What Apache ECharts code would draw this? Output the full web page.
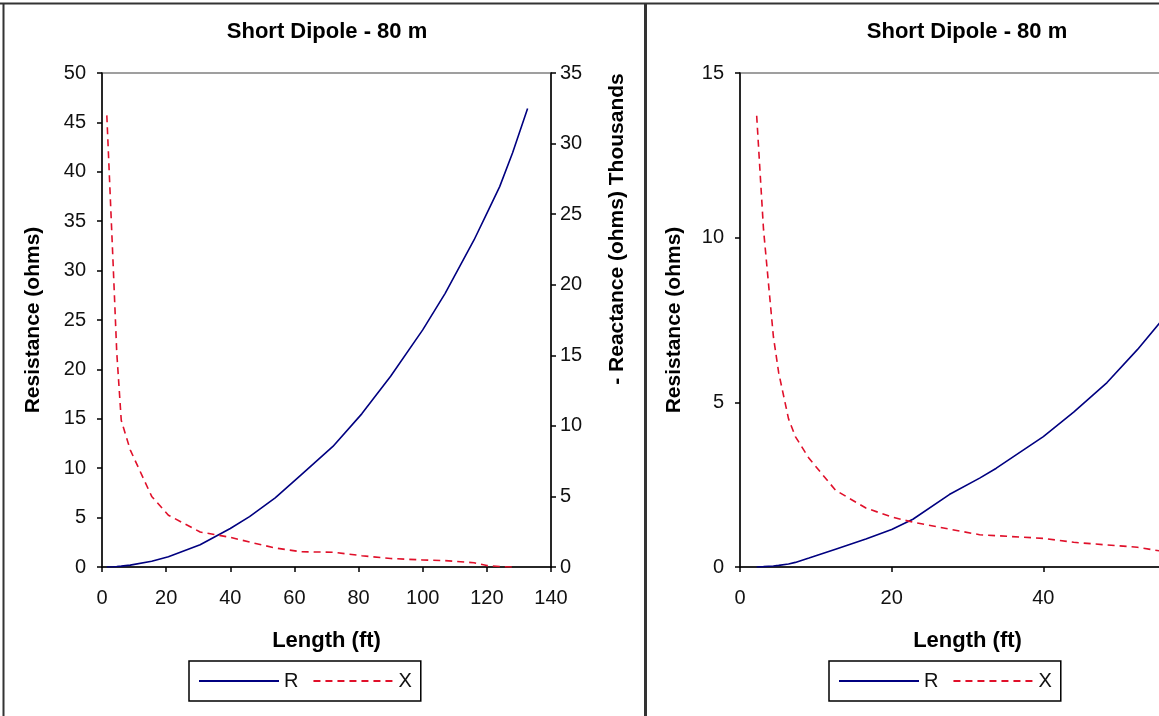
<!DOCTYPE html>
<html><head><meta charset="utf-8">
<script src="https://cdn.jsdelivr.net/npm/echarts@6/dist/echarts.min.js"></script>
<style>html,body{margin:0;padding:0;background:#fff}#c{width:1159px;height:716px}</style>
</head><body><div id="c"></div>
<script>
// ---- text ----
const chartTitle = 'Short Dipole - 80 m';
const xAxisTitle = 'Length (ft)';
const leftAxisTitle = 'Resistance (ohms)';
const rightAxisTitle = '- Reactance (ohms) Thousands';
const seriesNames = ['R', 'X'];

// ---- left chart data (length ft, R ohms, X thousands of ohms) ----
const lengthA     = [1.5, 3.5, 4.6, 6, 8.8, 15.5, 20.7, 30.6, 40, 46, 54, 62, 72, 81, 90, 100, 107, 116, 120, 124, 128, 132.7];
const resistanceA = [0.0, 0.03, 0.05, 0.09, 0.19, 0.58, 1.03, 2.25, 3.9, 5.1, 7.0, 9.3, 12.2, 15.5, 19.3, 24.0, 27.7, 33.1, 35.8, 38.5, 41.9, 46.4];
const reactanceA  = [32.0, 21.3, 15.2, 10.4, 8.3, 5.0, 3.67, 2.48, 2.1, 1.77, 1.35, 1.08, 1.05, 0.8, 0.6, 0.5, 0.45, 0.3, 0.1, 0.03, 0, null];

// ---- right chart data (length ft, values on the resistance axis) ----
const lengthB     = [2.2, 3.1, 4.4, 5.1, 6.4, 7.3, 9.1, 12.6, 16.6, 20, 22.8, 27.6, 31.6, 33.8, 40, 44, 48.4, 52.4, 55.3, 60];
const resistanceB = [0, 0.01, 0.03, 0.05, 0.09, 0.14, 0.27, 0.54, 0.85, 1.14, 1.45, 2.2, 2.7, 3.0, 3.96, 4.7, 5.6, 6.6, 7.4, 8.6];
const reactanceB  = [13.7, 10.25, 7.0, 5.9, 4.5, 3.96, 3.3, 2.33, 1.79, 1.52, 1.36, 1.15, 0.98, 0.95, 0.87, 0.75, 0.67, 0.6, 0.49, 0.42];

// ---- axis ranges ----
const xRangeA = {min: 0, max: 140, interval: 20};
const yRangeA = {min: 0, max: 50, interval: 5};
const y2RangeA = {min: 0, max: 35, interval: 5};
const xRangeB = {min: 0, max: 60, interval: 20};
const yRangeB = {min: 0, max: 15, interval: 5};

const zip = (xs, ys) => xs.map((x, i) => [x, ys[i]]);
const FONT = 'Liberation Sans, Arial, sans-serif';
const lbl = (margin) => ({fontSize: 20, color: '#111', fontFamily: FONT, margin: margin});
const axisLine = {lineStyle: {color: '#000', width: 1.5}};
const axisTick = {length: 5, lineStyle: {color: '#000', width: 1.5}};
const nameStyle = {fontSize: 21, fontWeight: 'bold', color: '#000', fontFamily: FONT};
const xNameStyle = {fontSize: 22, fontWeight: 'bold', color: '#000', fontFamily: FONT};
const titleStyle = {fontSize: 22, fontWeight: 'bold', color: '#000', fontFamily: FONT};
const rStyle = {color: '#000080', width: 1.6};
const xStyle = {color: '#e0102a', width: 1.6, type: [7, 5]};
const legendBase = {orient: 'horizontal', itemWidth: 80, itemHeight: 20, itemGap: 14, padding: [10, 9],
  borderColor: '#000', borderWidth: 1.5, data: seriesNames, itemStyle: {opacity: 0},
  textStyle: {fontSize: 20, color: '#111', fontFamily: FONT}};

const chart = echarts.init(document.getElementById('c'));
chart.setOption({
  animation: false,
  backgroundColor: '#fff',
  title: [
    {text: chartTitle, left: 322, top: 16, textAlign: 'center', textStyle: titleStyle},
    {text: chartTitle, left: 962, top: 16, textAlign: 'center', textStyle: titleStyle}
  ],
  legend: [
    Object.assign({left: 189, top: 661}, legendBase),
    Object.assign({left: 829, top: 661}, legendBase)
  ],
  grid: [
    {left: 102, top: 73, width: 449, height: 494, show: true, borderColor: '#808080', borderWidth: 1.5, outerBoundsMode: 'none', containLabel: false},
    {left: 740, top: 73, width: 455, height: 494, show: true, borderColor: '#808080', borderWidth: 1.5, outerBoundsMode: 'none', containLabel: false}
  ],
  xAxis: [
    Object.assign({gridIndex: 0, type: 'value', axisLine, axisTick, axisLabel: lbl(21), splitLine: {show: false},
      name: xAxisTitle, nameLocation: 'middle', nameGap: 63, nameTextStyle: xNameStyle}, xRangeA),
    Object.assign({gridIndex: 1, type: 'value', axisLine, axisTick, axisLabel: lbl(21), splitLine: {show: false},
      name: xAxisTitle, nameLocation: 'middle', nameGap: 63, nameTextStyle: xNameStyle}, xRangeB)
  ],
  yAxis: [
    Object.assign({gridIndex: 0, type: 'value', position: 'left', axisLine: Object.assign({show: true}, axisLine), axisTick: Object.assign({show: true}, axisTick),
      axisLabel: lbl(16), splitLine: {show: false},
      name: leftAxisTitle, nameLocation: 'middle', nameGap: 58, nameRotate: 90, nameTextStyle: nameStyle}, yRangeA),
    Object.assign({gridIndex: 0, type: 'value', position: 'right', axisLine: Object.assign({show: true}, axisLine), axisTick: Object.assign({show: true}, axisTick),
      axisLabel: lbl(9), splitLine: {show: false}}, y2RangeA),
    Object.assign({gridIndex: 1, type: 'value', position: 'left', axisLine: Object.assign({show: true}, axisLine), axisTick: Object.assign({show: true}, axisTick),
      axisLabel: lbl(16), splitLine: {show: false},
      name: leftAxisTitle, nameLocation: 'middle', nameGap: 55, nameRotate: 90, nameTextStyle: nameStyle}, yRangeB)
  ],
  series: [
    {name: seriesNames[0], type: 'line', xAxisIndex: 0, yAxisIndex: 0, data: zip(lengthA, resistanceA), symbol: 'none', lineStyle: rStyle, itemStyle: {color: rStyle.color}},
    {name: seriesNames[1], type: 'line', xAxisIndex: 0, yAxisIndex: 1, data: zip(lengthA, reactanceA), symbol: 'none', lineStyle: xStyle, itemStyle: {color: xStyle.color}},
    {name: seriesNames[0], type: 'line', xAxisIndex: 1, yAxisIndex: 2, data: zip(lengthB, resistanceB), symbol: 'none', lineStyle: rStyle, itemStyle: {color: rStyle.color}},
    {name: seriesNames[1], type: 'line', xAxisIndex: 1, yAxisIndex: 2, data: zip(lengthB, reactanceB), symbol: 'none', lineStyle: xStyle, itemStyle: {color: xStyle.color}}
  ],
  graphic: [
    {type: 'text', x: 617, y: 229, rotation: Math.PI / 2,
     style: {text: rightAxisTitle, fontSize: 21, fontWeight: 'bold', fill: '#000', fontFamily: FONT, align: 'center', verticalAlign: 'middle'}},
    {type: 'line', shape: {x1: 0, y1: 3.5, x2: 1159, y2: 3.5}, style: {stroke: '#333', lineWidth: 2}},
    {type: 'line', shape: {x1: 3.5, y1: 3, x2: 3.5, y2: 716}, style: {stroke: '#333', lineWidth: 2}},
    {type: 'line', shape: {x1: 645.5, y1: 3, x2: 645.5, y2: 716}, style: {stroke: '#333', lineWidth: 3}}
  ]
});
</script></body></html>
